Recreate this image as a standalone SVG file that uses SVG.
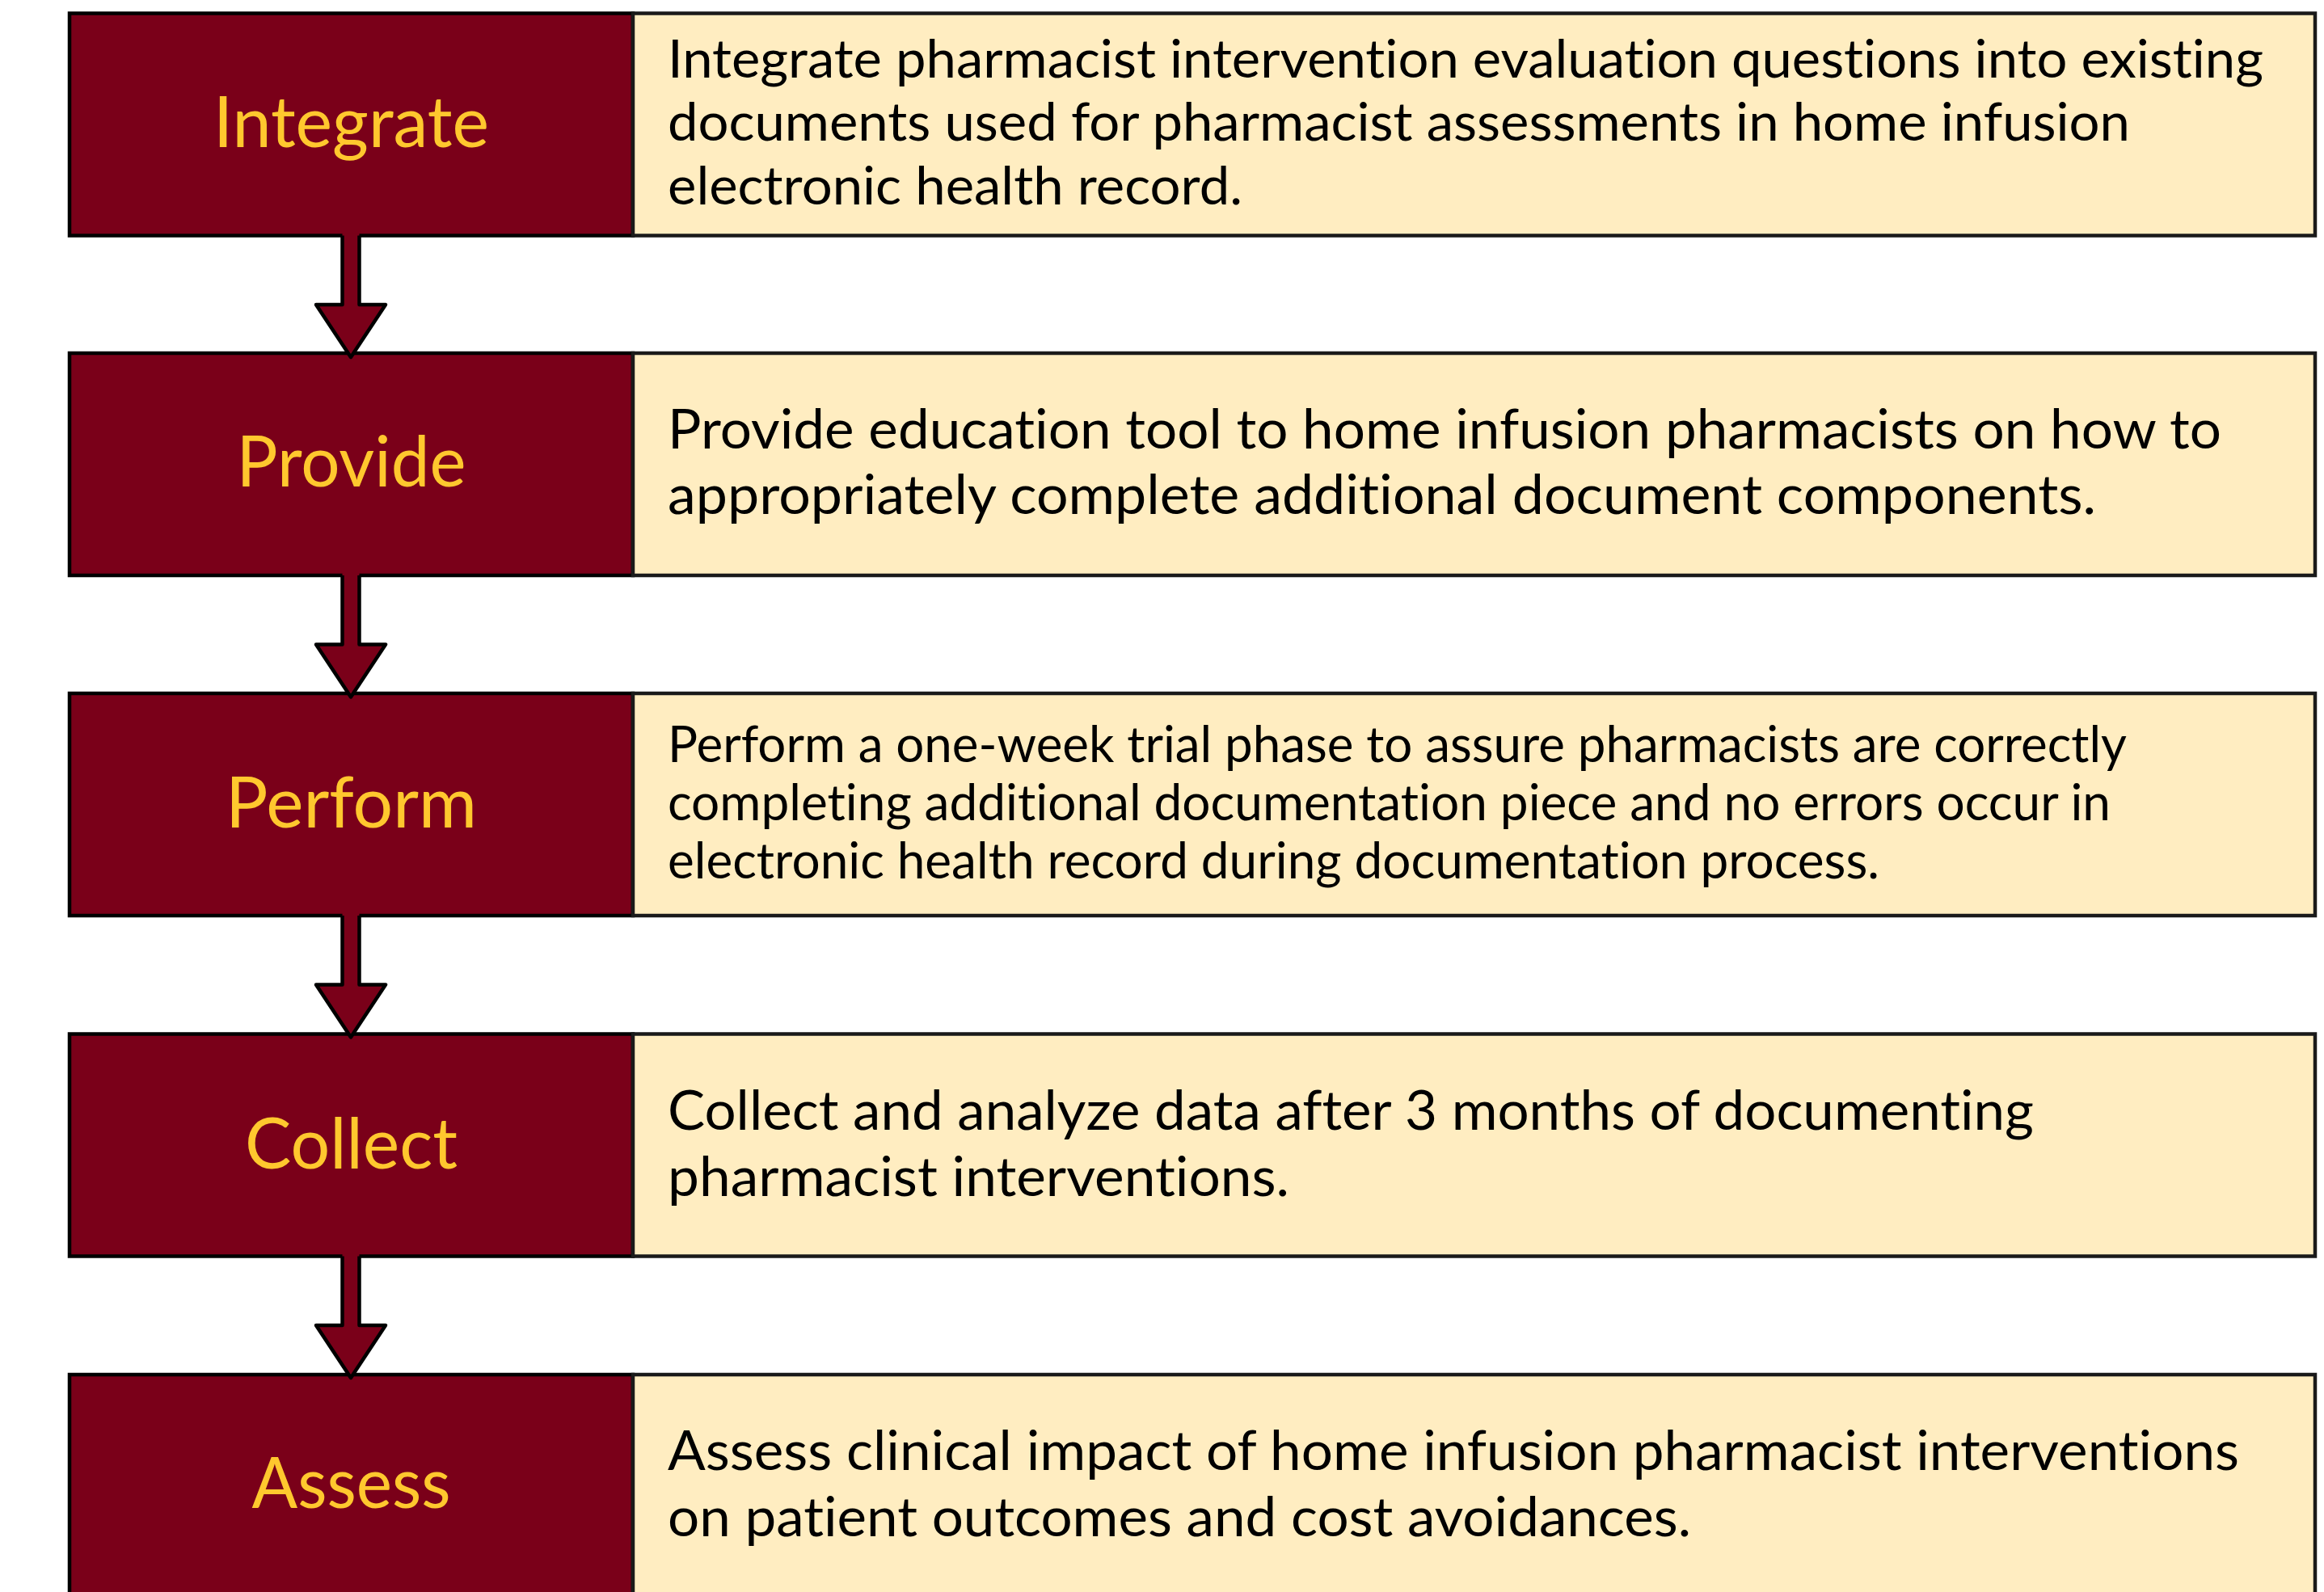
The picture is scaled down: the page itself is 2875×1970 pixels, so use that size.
<svg xmlns="http://www.w3.org/2000/svg" width="2875" height="1970" viewBox="0 0 2875 1970">
  <style>
    text { font-variant-ligatures: none; font-feature-settings: "liga" 0, "clig" 0; }
    .lbl-box { fill: #7A0019; stroke: #000000; stroke-width: 4.5; }
    .txt-box { fill: #FFEDC1; stroke: #1A1A1A; stroke-width: 4.5; }
    .lbl { font-family: "Lato", "Open Sans", sans-serif; font-size: 88px; fill: #FFC82E; text-anchor: middle; }
    .desc { font-family: "Lato", "Open Sans", sans-serif; fill: #000000; }
    .d1 { font-size: 65px; }
    .d2 { font-size: 68px; }
    .d3 { font-size: 62px; }
    .arrow-fill { fill: #7A0019; stroke: none; }
    .arrow-edge { fill: none; stroke: #000000; stroke-width: 4.5; stroke-linejoin: round; }
  </style>
  <defs>
    <!-- down arrow between steps, origin at the shaft top centre -->
    <g id="down-arrow">
      <polygon class="arrow-fill" points="-10.5,-3 -10.5,85.5 -43,85.5 0,150.5 43,85.5 10.5,85.5 10.5,-3"/>
      <path class="arrow-edge" d="M-10.5,0 V85.5 H-43 L0,150.5 L43,85.5 H10.5 V0"/>
    </g>
  </defs>
  <rect width="2875" height="1970" fill="#FFFFFF"/>

  <g id="step-integrate">
    <rect class="lbl-box" x="86" y="16.5" width="697" height="275"/>
    <rect class="txt-box" x="783" y="16.5" width="2081" height="275"/>
    <text class="lbl" x="434.5" y="182" textLength="341" lengthAdjust="spacingAndGlyphs">Integrate</text>
    <text class="desc d1" x="826" y="96" textLength="1974" lengthAdjust="spacingAndGlyphs">Integrate pharmacist intervention evaluation questions into existing</text>
    <text class="desc d1" x="826" y="174" textLength="1809" lengthAdjust="spacingAndGlyphs">documents used for pharmacist assessments in home infusion</text>
    <text class="desc d1" x="826" y="253" textLength="711" lengthAdjust="spacingAndGlyphs">electronic health record.</text>
  </g>

  <g id="step-provide">
    <rect class="lbl-box" x="86" y="437" width="697" height="275"/>
    <rect class="txt-box" x="783" y="437" width="2081" height="275"/>
    <text class="lbl" x="434.5" y="602" textLength="284" lengthAdjust="spacingAndGlyphs">Provide</text>
    <text class="desc d2" x="826" y="555" textLength="1922" lengthAdjust="spacingAndGlyphs">Provide education tool to home infusion pharmacists on how to</text>
    <text class="desc d2" x="826" y="636" textLength="1767" lengthAdjust="spacingAndGlyphs">appropriately complete additional document components.</text>
  </g>

  <g id="step-perform">
    <rect class="lbl-box" x="86" y="858" width="697" height="275"/>
    <rect class="txt-box" x="783" y="858" width="2081" height="275"/>
    <text class="lbl" x="434.5" y="1024" textLength="311" lengthAdjust="spacingAndGlyphs">Perform</text>
    <text class="desc d3" x="826" y="943" textLength="1805" lengthAdjust="spacingAndGlyphs">Perform a one-week trial phase to assure pharmacists are correctly</text>
    <text class="desc d3" x="826" y="1015" textLength="1785" lengthAdjust="spacingAndGlyphs">completing additional documentation piece and no errors occur in</text>
    <text class="desc d3" x="826" y="1087" textLength="1499" lengthAdjust="spacingAndGlyphs">electronic health record during documentation process.</text>
  </g>

  <g id="step-collect">
    <rect class="lbl-box" x="86" y="1279.5" width="697" height="275"/>
    <rect class="txt-box" x="783" y="1279.5" width="2081" height="275"/>
    <text class="lbl" x="434.5" y="1446" textLength="263" lengthAdjust="spacingAndGlyphs">Collect</text>
    <text class="desc d2" x="826" y="1398" textLength="1690" lengthAdjust="spacingAndGlyphs">Collect and analyze data after 3 months of documenting</text>
    <text class="desc d2" x="826" y="1480" textLength="769" lengthAdjust="spacingAndGlyphs">pharmacist interventions.</text>
  </g>

  <g id="step-assess">
    <rect class="lbl-box" x="86" y="1701" width="697" height="320"/>
    <rect class="txt-box" x="783" y="1701" width="2081" height="320"/>
    <text class="lbl" x="434.5" y="1866" textLength="246" lengthAdjust="spacingAndGlyphs">Assess</text>
    <text class="desc d2" x="826" y="1819" textLength="1944" lengthAdjust="spacingAndGlyphs">Assess clinical impact of home infusion pharmacist interventions</text>
    <text class="desc d2" x="826" y="1901" textLength="1266" lengthAdjust="spacingAndGlyphs">on patient outcomes and cost avoidances.</text>
  </g>

  <g id="connectors">
    <use href="#down-arrow" x="434" y="291.5"/>
    <use href="#down-arrow" x="434" y="712"/>
    <use href="#down-arrow" x="434" y="1133"/>
    <use href="#down-arrow" x="434" y="1554.5"/>
  </g>
</svg>
